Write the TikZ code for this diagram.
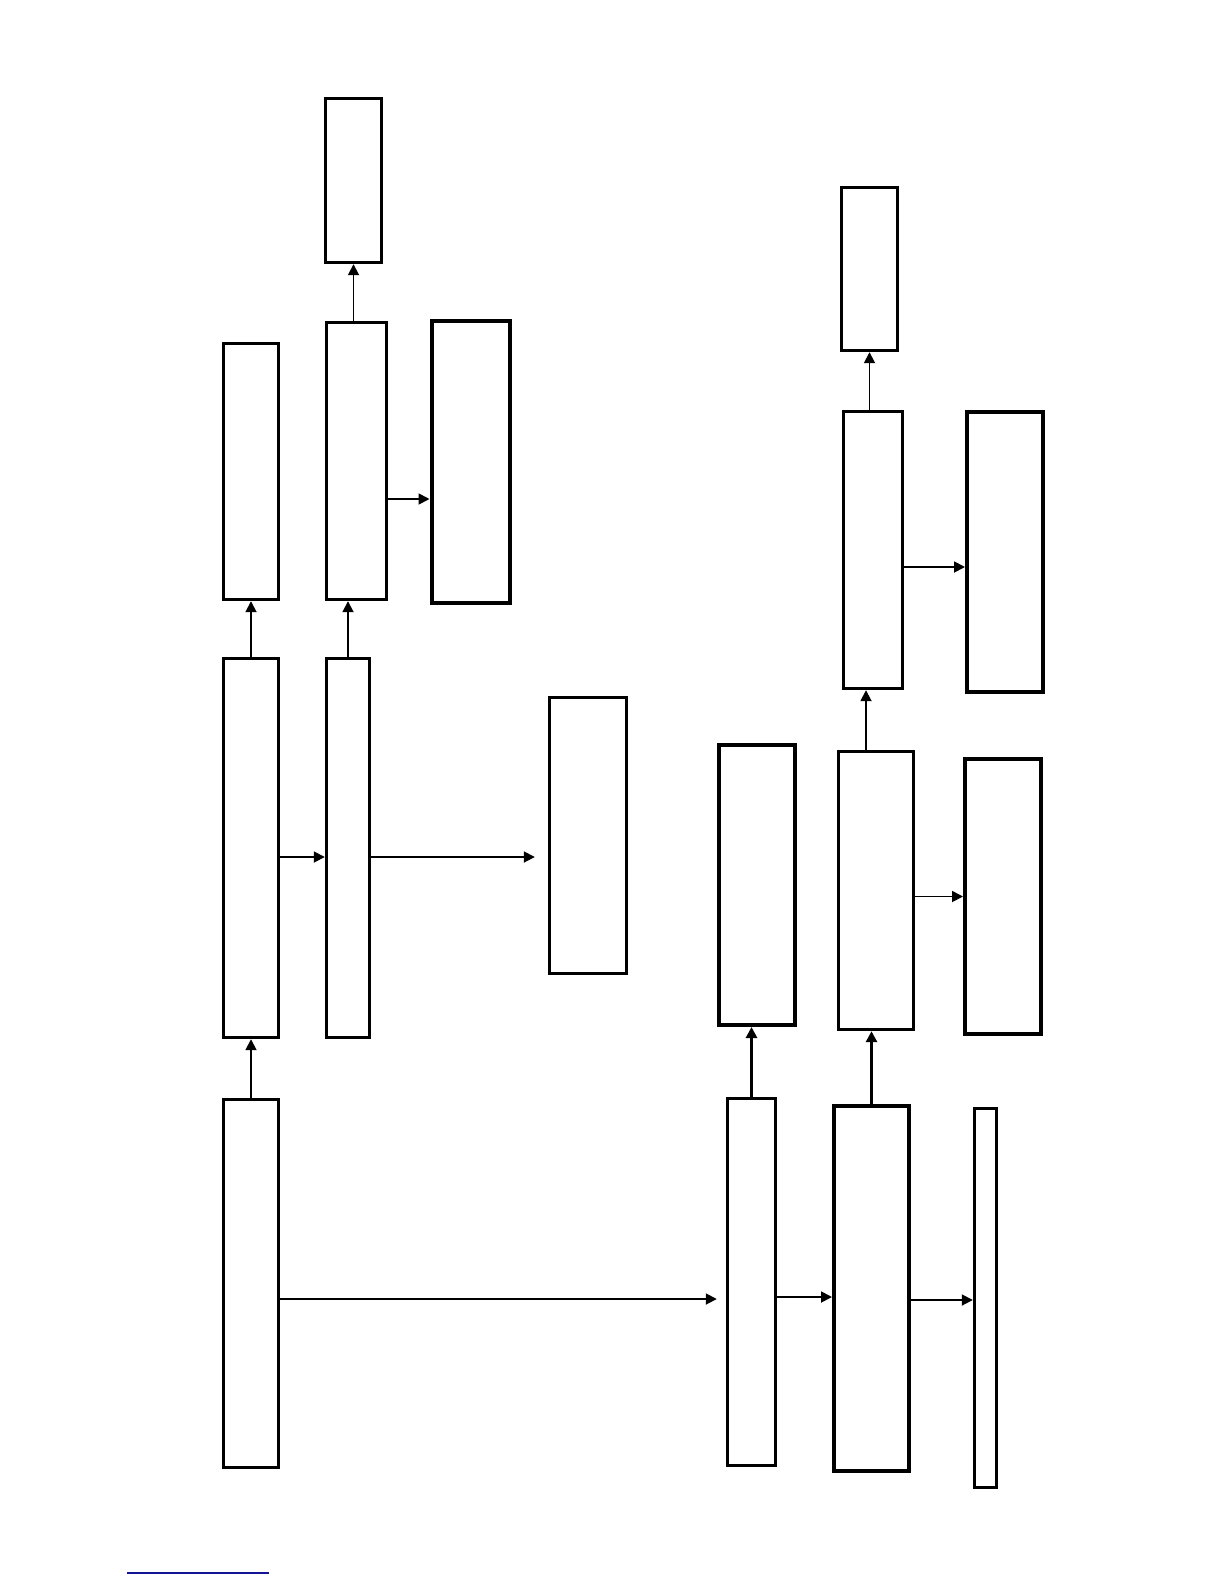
\documentclass[tikz,border=0pt]{standalone}
\usepackage{xcolor}
\usepackage{tikz}
\usetikzlibrary{arrows.meta,positioning,calc}
\definecolor{rulecol}{RGB}{20,20,150}

\begin{document}
\begin{tikzpicture}[x=0.5pt, y=-0.5pt, >={Triangle[length=5.5pt,width=5.5pt]},
    box/.style={draw, line width=1.7pt, inner sep=0pt},
    heavybox/.style={box, line width=2pt},
    link/.style={->, line width=0.9pt},
    heavylink/.style={->, line width=1.5pt}]
    \useasboundingbox (0,0) rectangle (1224,1584);
    % left column
    \node[box, minimum width=28pt, minimum height=82pt] (T) at (353.5,180.5) {};
    \node[box, minimum width=27.5pt, minimum height=128pt] (C) at (251,471.5) {};
    \node[box, minimum width=30pt, minimum height=138.5pt] (B) at (356.5,461) {};
    \node[heavybox, minimum width=39pt, minimum height=141pt] (D) at (470.5,461.5) {};
    \node[box, minimum width=27.5pt, minimum height=189.5pt] (E) at (251,848) {};
    \node[box, minimum width=21.5pt, minimum height=189.5pt] (F) at (348,848) {};
    \node[box, minimum width=38.5pt, minimum height=138pt] (G) at (588,835.5) {};
    \node[box, minimum width=27.5pt, minimum height=184pt] (H) at (251,1283.5) {};
    % right column
    \node[box, minimum width=24pt, minimum height=183.5pt] (I) at (751.5,1282) {};
    \node[heavybox, minimum width=37.5pt, minimum height=182.5pt] (J) at (871.5,1288.5) {};
    \node[box, minimum width=11pt, minimum height=189.5pt] (K) at (985.5,1298) {};
    \node[heavybox, minimum width=38pt, minimum height=140pt] (L) at (757,885) {};
    \node[box, minimum width=37.5pt, minimum height=139pt] (M) at (876,890.5) {};
    \node[heavybox, minimum width=38pt, minimum height=137.5pt] (N) at (1003,896.5) {};
    \node[box, minimum width=29.5pt, minimum height=138.5pt] (O) at (873,550) {};
    \node[heavybox, minimum width=38pt, minimum height=140pt] (P) at (1005,552) {};
    \node[box, minimum width=28pt, minimum height=81.5pt] (Q) at (869.5,269) {};
    % connectors
    \draw[link] (B.north -| T) -- (T.south);
    \draw[link] (B.east |- 0,499) -- (D.west |- 0,499);
    \draw[link] (E.north) -- (C.south);
    \draw[link] (F.north) -- (F.north |- B.south);
    \draw[link] (E.east |- 0,857) -- (F.west |- 0,857);
    \draw[link, shorten >=6.5pt] (F.east |- 0,857) -- (G.west |- 0,857);
    \draw[link] (H.north) -- (E.south);
    \draw[link, shorten >=4.5pt] (H.east |- 0,1299) -- (I.west |- 0,1299);
    \draw[link] (I.east |- 0,1297) -- (J.west |- 0,1297);
    \draw[link] (J.east |- 0,1300) -- (K.west |- 0,1300);
    \draw[heavylink] (I.north) -- (I.north |- L.south);
    \draw[heavylink] (J.north) -- (J.north |- M.south);
    \draw[link] (M.east |- N) -- (N.west);
    \draw[link] (M.north -| 866,0) -- (O.south -| 866,0);
    \draw[link] (O.east |- 0,567) -- (P.west |- 0,567);
    \draw[link] (O.north -| Q) -- (Q.south);
    % footnote rule
    \draw[rulecol, line width=0.6pt] (127,1573) -- (269,1573);
\end{tikzpicture}
\end{document}
